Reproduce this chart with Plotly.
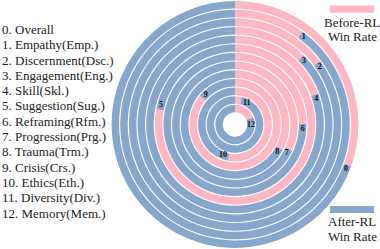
import plotly.graph_objects as go
import math

# Data
categories = ["Overall", "Empathy(Emp.)", "Discernment(Dsc.)", "Engagement(Eng.)", "Skill(Skl.)",
              "Suggestion(Sug.)", "Reframing(Rfm.)", "Progression(Prg.)", "Trauma(Trm.)",
              "Crisis(Crs.)", "Ethics(Eth.)", "Diversity(Div.)", "Memory(Mem.)"]
before_rl = [30.5, 10.0, 14.8, 12.4, 19.3, 78.1, 24.9, 31.9, 32.8, 86.0, 53.0, 4.0, 19.0]
after_rl = [100 - v for v in before_rl]
ring_ids = [str(i) for i in range(len(categories))]

PINK = "#FFB7C3"
BLUE = "#88A7CC"
SERIF = "Liberation Serif, Times New Roman, Times, serif"
W, H = 380, 249
N = len(categories)
gap = 0.13

fig = go.Figure()
bases = [N - 1 - i + gap / 2 for i in range(N)]
thick = [1 - gap] * N

pink_w = [v * 3.6 for v in before_rl]
blue_w = [v * 3.6 for v in after_rl]
fig.add_trace(go.Barpolar(
    r=thick, base=bases, theta=[w / 2 for w in pink_w], width=pink_w,
    marker=dict(color=PINK, line=dict(width=0)), name="Before-RL", showlegend=False,
    hoverinfo="skip"))
fig.add_trace(go.Barpolar(
    r=thick, base=bases, theta=[p + b / 2 for p, b in zip(pink_w, blue_w)], width=blue_w,
    marker=dict(color=BLUE, line=dict(width=0)), name="After-RL", showlegend=False,
    hoverinfo="skip"))

# ring labels placed just past the end of the pink arc
R_px, hole_px = 124.0, 11.6
unit_px = (R_px - hole_px) / N
lab_r, lab_t = [], []
for i in range(N):
    rc = N - 1 - i + 0.5
    rpx = hole_px + rc * unit_px
    off = (4.5 if i < 10 else 6.0) / rpx * 180 / math.pi
    lab_r.append(rc)
    lab_t.append(pink_w[i] + off)
fig.add_trace(go.Scatterpolar(
    r=lab_r, theta=lab_t, mode="text", text=["<b>%s</b>" % t for t in ring_ids],
    textfont=dict(family=SERIF, size=8, color="#111"),
    showlegend=False, hoverinfo="skip"))

cx0, cx1 = 111 / W, 359 / W
fig.update_layout(
    width=W, height=H, margin=dict(l=0, r=0, t=0, b=0),
    paper_bgcolor="white", plot_bgcolor="white",
    polar=dict(
        domain=dict(x=[cx0, cx1], y=[0.0, 1.0]),
        hole=hole_px / R_px,
        bgcolor="white",
        radialaxis=dict(range=[0, N], visible=False, showgrid=False),
        angularaxis=dict(direction="clockwise", rotation=90, visible=False,
                         showgrid=False, showline=False),
    ),
)

# left list of categories
for i, c in enumerate(categories):
    y = 29.5 + 15.3 * i
    fig.add_annotation(x=0, y=1 - y / H, xref="paper", yref="paper", xanchor="left",
                       yanchor="middle", showarrow=False, text=f"{i}. {c}",
                       font=dict(family=SERIF, size=13, color="#222"))

# right legend
fig.add_shape(type="rect", xref="paper", yref="paper", x0=330 / W, x1=374 / W,
              y0=1 - 12.7 / H, y1=1 - 5.5 / H, fillcolor=PINK, line=dict(width=0))
fig.add_shape(type="rect", xref="paper", yref="paper", x0=330 / W, x1=374 / W,
              y0=1 - 213 / H, y1=1 - 206 / H, fillcolor=BLUE, line=dict(width=0))
for txt, y in [("Before-RL", 22.5), ("Win Rate", 36.5), ("After-RL", 221.5), ("Win Rate", 236)]:
    fig.add_annotation(x=352 / W, y=1 - y / H, xref="paper", yref="paper", xanchor="center",
                       yanchor="middle", showarrow=False, text=txt,
                       font=dict(family=SERIF, size=13, color="#222"))

fig.write_html("out.html", config={"displayModeBar": False},
               post_script="document.body.style.margin='0';")
